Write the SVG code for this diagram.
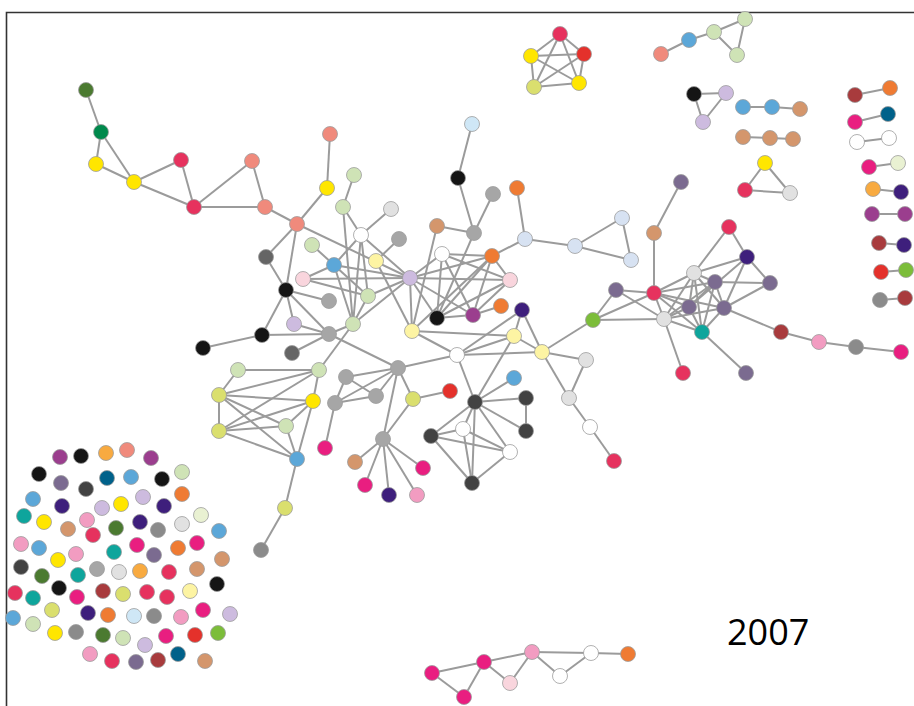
<svg xmlns="http://www.w3.org/2000/svg" width="914" height="706" viewBox="0 0 914 706">
<style>
circle{stroke:#9d9d9d;stroke-width:0.8}
#edges line{stroke:#9b9b9b;stroke-width:2}
.cr{fill:#e6325e}.mg{fill:#e91e80}.sa{fill:#f08a7c}.ye{fill:#ffe600}.yg{fill:#dadf6e}.lg{fill:#cfe3b6}.pg{fill:#e9f1d2}.gr{fill:#7cbd3a}.dg{fill:#4b7a30}.g2{fill:#00894c}.te{fill:#0ea59c}.tb{fill:#00618a}.bl{fill:#5ca7d8}.lb{fill:#cfe7f6}.bg{fill:#d7e2f2}.in{fill:#3e1f7c}.pu{fill:#9b3e8e}.pp{fill:#7b6b90}.la{fill:#cdbbdf}.pk{fill:#f29cc1}.pl{fill:#f9d5dd}.or{fill:#ef7b33}.oy{fill:#f8aa40}.ta{fill:#d4966c}.dr{fill:#a83b3d}.re{fill:#e4312b}.bk{fill:#151515}.dk{fill:#424242}.dm{fill:#656565}.gy{fill:#a6a6a6}.g8{fill:#8b8b8b}.lt{fill:#e1e1e1}.wh{fill:#ffffff}.ly{fill:#fdf4a3}
.yr{font-family:"Open Sans","Liberation Sans",sans-serif;font-size:36px;fill:#000}
</style>
<rect width="914" height="706" fill="#fff"/>
<path d="M6.5 706V12.5H914" fill="none" stroke="#333" stroke-width="1.6"/>
<g id="edges">
<line x1="86" y1="90" x2="101" y2="132"/><line x1="101" y1="132" x2="96" y2="164"/><line x1="101" y1="132" x2="134" y2="182"/><line x1="96" y1="164" x2="134" y2="182"/><line x1="134" y1="182" x2="181" y2="160"/><line x1="134" y1="182" x2="194" y2="207"/><line x1="181" y1="160" x2="194" y2="207"/><line x1="194" y1="207" x2="252" y2="161"/><line x1="194" y1="207" x2="265" y2="207"/><line x1="252" y1="161" x2="265" y2="207"/><line x1="265" y1="207" x2="297" y2="224"/><line x1="297" y1="224" x2="327" y2="188"/><line x1="327" y1="188" x2="330" y2="134"/><line x1="354" y1="175" x2="343" y2="207"/><line x1="297" y1="224" x2="266" y2="257"/><line x1="297" y1="224" x2="286" y2="290"/><line x1="297" y1="224" x2="410" y2="278"/><line x1="343" y1="207" x2="361" y2="235"/><line x1="343" y1="207" x2="353" y2="324"/><line x1="391" y1="209" x2="361" y2="235"/><line x1="361" y1="235" x2="334" y2="265"/><line x1="361" y1="235" x2="368" y2="296"/><line x1="361" y1="235" x2="353" y2="324"/><line x1="361" y1="235" x2="410" y2="278"/><line x1="399" y1="239" x2="376" y2="261"/><line x1="312" y1="245" x2="334" y2="265"/><line x1="334" y1="265" x2="410" y2="278"/><line x1="334" y1="265" x2="303" y2="279"/><line x1="334" y1="265" x2="368" y2="296"/><line x1="334" y1="265" x2="353" y2="324"/><line x1="376" y1="261" x2="412" y2="331"/><line x1="303" y1="279" x2="368" y2="296"/><line x1="303" y1="279" x2="410" y2="278"/><line x1="410" y1="278" x2="368" y2="296"/><line x1="410" y1="278" x2="353" y2="324"/><line x1="410" y1="278" x2="412" y2="331"/><line x1="410" y1="278" x2="437" y2="318"/><line x1="410" y1="278" x2="442" y2="254"/><line x1="410" y1="278" x2="492" y2="256"/><line x1="410" y1="278" x2="510" y2="280"/><line x1="410" y1="278" x2="473" y2="315"/><line x1="286" y1="290" x2="266" y2="257"/><line x1="286" y1="290" x2="329" y2="301"/><line x1="286" y1="290" x2="262" y2="335"/><line x1="286" y1="290" x2="329" y2="334"/><line x1="286" y1="290" x2="294" y2="324"/><line x1="294" y1="324" x2="329" y2="334"/><line x1="262" y1="335" x2="329" y2="334"/><line x1="262" y1="335" x2="203" y2="348"/><line x1="329" y1="334" x2="292" y2="353"/><line x1="329" y1="334" x2="353" y2="324"/><line x1="329" y1="334" x2="398" y2="368"/><line x1="353" y1="324" x2="368" y2="296"/><line x1="353" y1="324" x2="319" y2="370"/>
<line x1="472" y1="124" x2="458" y2="178"/><line x1="458" y1="178" x2="474" y2="233"/><line x1="493" y1="194" x2="474" y2="233"/><line x1="437" y1="226" x2="474" y2="233"/><line x1="474" y1="233" x2="437" y2="318"/><line x1="437" y1="226" x2="412" y2="331"/><line x1="517" y1="188" x2="525" y2="239"/><line x1="525" y1="239" x2="492" y2="256"/><line x1="525" y1="239" x2="575" y2="246"/><line x1="575" y1="246" x2="622" y2="218"/><line x1="575" y1="246" x2="631" y2="260"/><line x1="622" y1="218" x2="631" y2="260"/><line x1="442" y1="254" x2="492" y2="256"/><line x1="442" y1="254" x2="510" y2="280"/><line x1="442" y1="254" x2="437" y2="318"/><line x1="442" y1="254" x2="473" y2="315"/><line x1="492" y1="256" x2="510" y2="280"/><line x1="492" y1="256" x2="437" y2="318"/><line x1="492" y1="256" x2="473" y2="315"/><line x1="492" y1="256" x2="412" y2="331"/><line x1="510" y1="280" x2="437" y2="318"/><line x1="510" y1="280" x2="473" y2="315"/><line x1="473" y1="315" x2="437" y2="318"/><line x1="473" y1="315" x2="501" y2="306"/><line x1="412" y1="331" x2="514" y2="336"/><line x1="412" y1="331" x2="457" y2="355"/><line x1="522" y1="310" x2="457" y2="355"/><line x1="522" y1="310" x2="514" y2="336"/><line x1="522" y1="310" x2="542" y2="352"/><line x1="457" y1="355" x2="514" y2="336"/><line x1="457" y1="355" x2="542" y2="352"/><line x1="514" y1="336" x2="542" y2="352"/><line x1="514" y1="336" x2="475" y2="402"/><line x1="457" y1="355" x2="475" y2="402"/><line x1="457" y1="355" x2="398" y2="368"/><line x1="542" y1="352" x2="593" y2="320"/><line x1="542" y1="352" x2="586" y2="360"/><line x1="542" y1="352" x2="569" y2="398"/><line x1="586" y1="360" x2="569" y2="398"/><line x1="569" y1="398" x2="590" y2="427"/><line x1="590" y1="427" x2="614" y2="461"/>
<line x1="593" y1="320" x2="616" y2="290"/><line x1="593" y1="320" x2="654" y2="293"/><line x1="593" y1="320" x2="664" y2="319"/><line x1="616" y1="290" x2="654" y2="293"/><line x1="616" y1="290" x2="664" y2="319"/><line x1="681" y1="182" x2="654" y2="233"/><line x1="654" y1="233" x2="654" y2="293"/><line x1="654" y1="293" x2="694" y2="273"/><line x1="654" y1="293" x2="715" y2="282"/><line x1="654" y1="293" x2="689" y2="307"/><line x1="654" y1="293" x2="724" y2="308"/><line x1="654" y1="293" x2="664" y2="319"/><line x1="654" y1="293" x2="702" y2="332"/><line x1="729" y1="227" x2="694" y2="273"/><line x1="729" y1="227" x2="747" y2="257"/><line x1="747" y1="257" x2="694" y2="273"/><line x1="747" y1="257" x2="770" y2="283"/><line x1="747" y1="257" x2="689" y2="307"/><line x1="747" y1="257" x2="724" y2="308"/><line x1="694" y1="273" x2="715" y2="282"/><line x1="694" y1="273" x2="689" y2="307"/><line x1="694" y1="273" x2="724" y2="308"/><line x1="694" y1="273" x2="664" y2="319"/><line x1="694" y1="273" x2="702" y2="332"/><line x1="715" y1="282" x2="770" y2="283"/><line x1="715" y1="282" x2="724" y2="308"/><line x1="715" y1="282" x2="664" y2="319"/><line x1="715" y1="282" x2="702" y2="332"/><line x1="715" y1="282" x2="689" y2="307"/><line x1="664" y1="319" x2="702" y2="332"/><line x1="664" y1="319" x2="689" y2="307"/><line x1="664" y1="319" x2="724" y2="308"/><line x1="664" y1="319" x2="683" y2="373"/><line x1="702" y1="332" x2="746" y2="373"/><line x1="724" y1="308" x2="781" y2="332"/><line x1="781" y1="332" x2="819" y2="342"/><line x1="819" y1="342" x2="856" y2="347"/><line x1="856" y1="347" x2="901" y2="352"/><line x1="689" y1="307" x2="702" y2="332"/><line x1="724" y1="308" x2="702" y2="332"/><line x1="770" y1="283" x2="724" y2="308"/>
<line x1="413" y1="399" x2="450" y2="391"/><line x1="475" y1="402" x2="514" y2="378"/><line x1="475" y1="402" x2="526" y2="398"/><line x1="475" y1="402" x2="526" y2="431"/><line x1="526" y1="398" x2="526" y2="431"/><line x1="475" y1="402" x2="463" y2="429"/><line x1="475" y1="402" x2="431" y2="436"/><line x1="475" y1="402" x2="510" y2="452"/><line x1="475" y1="402" x2="472" y2="483"/><line x1="431" y1="436" x2="463" y2="429"/><line x1="431" y1="436" x2="510" y2="452"/><line x1="431" y1="436" x2="472" y2="483"/><line x1="463" y1="429" x2="510" y2="452"/><line x1="463" y1="429" x2="472" y2="483"/><line x1="510" y1="452" x2="472" y2="483"/><line x1="398" y1="368" x2="413" y2="399"/><line x1="398" y1="368" x2="346" y2="377"/><line x1="398" y1="368" x2="376" y2="396"/><line x1="398" y1="368" x2="335" y2="403"/><line x1="398" y1="368" x2="383" y2="439"/><line x1="346" y1="377" x2="376" y2="396"/><line x1="346" y1="377" x2="335" y2="403"/><line x1="376" y1="396" x2="335" y2="403"/><line x1="335" y1="403" x2="325" y2="448"/><line x1="383" y1="439" x2="355" y2="462"/><line x1="383" y1="439" x2="365" y2="485"/><line x1="383" y1="439" x2="389" y2="495"/><line x1="383" y1="439" x2="417" y2="495"/><line x1="383" y1="439" x2="423" y2="468"/><line x1="383" y1="439" x2="413" y2="399"/><line x1="238" y1="370" x2="319" y2="370"/><line x1="238" y1="370" x2="219" y2="395"/><line x1="319" y1="370" x2="219" y2="395"/><line x1="319" y1="370" x2="219" y2="431"/><line x1="319" y1="370" x2="313" y2="401"/><line x1="219" y1="395" x2="313" y2="401"/><line x1="219" y1="395" x2="219" y2="431"/><line x1="219" y1="395" x2="286" y2="426"/><line x1="219" y1="395" x2="297" y2="459"/><line x1="219" y1="431" x2="313" y2="401"/><line x1="219" y1="431" x2="286" y2="426"/><line x1="219" y1="431" x2="297" y2="459"/><line x1="286" y1="426" x2="297" y2="459"/><line x1="286" y1="426" x2="313" y2="401"/><line x1="313" y1="401" x2="297" y2="459"/><line x1="297" y1="459" x2="285" y2="508"/><line x1="285" y1="508" x2="261" y2="550"/>
<line x1="560" y1="34" x2="531" y2="56"/><line x1="560" y1="34" x2="584" y2="54"/><line x1="560" y1="34" x2="534" y2="87"/><line x1="560" y1="34" x2="579" y2="83"/><line x1="531" y1="56" x2="584" y2="54"/><line x1="531" y1="56" x2="534" y2="87"/><line x1="531" y1="56" x2="579" y2="83"/><line x1="584" y1="54" x2="534" y2="87"/><line x1="584" y1="54" x2="579" y2="83"/><line x1="534" y1="87" x2="579" y2="83"/>
<line x1="661" y1="54" x2="689" y2="40"/><line x1="689" y1="40" x2="714" y2="32"/><line x1="714" y1="32" x2="745" y2="19"/><line x1="714" y1="32" x2="737" y2="55"/><line x1="745" y1="19" x2="737" y2="55"/>
<line x1="694" y1="94" x2="726" y2="93"/><line x1="694" y1="94" x2="703" y2="122"/><line x1="726" y1="93" x2="703" y2="122"/>
<line x1="743" y1="107" x2="772" y2="107"/><line x1="772" y1="107" x2="800" y2="109"/><line x1="743" y1="137" x2="770" y2="138"/><line x1="770" y1="138" x2="793" y2="139"/>
<line x1="765" y1="163" x2="745" y2="190"/><line x1="765" y1="163" x2="790" y2="193"/><line x1="745" y1="190" x2="790" y2="193"/>
<line x1="855" y1="95" x2="890" y2="88"/><line x1="855" y1="122" x2="888" y2="114"/><line x1="857" y1="142" x2="889" y2="138"/><line x1="869" y1="167" x2="898" y2="163"/><line x1="873" y1="189" x2="901" y2="192"/><line x1="872" y1="214" x2="905" y2="214"/><line x1="879" y1="243" x2="904" y2="245"/><line x1="881" y1="272" x2="906" y2="270"/><line x1="880" y1="300" x2="905" y2="298"/>
<line x1="432" y1="673" x2="464" y2="697"/><line x1="432" y1="673" x2="484" y2="662"/><line x1="464" y1="697" x2="484" y2="662"/><line x1="484" y1="662" x2="510" y2="683"/><line x1="484" y1="662" x2="532" y2="652"/><line x1="510" y1="683" x2="532" y2="652"/><line x1="532" y1="652" x2="560" y2="676"/><line x1="532" y1="652" x2="591" y2="653"/><line x1="560" y1="676" x2="591" y2="653"/><line x1="591" y1="653" x2="628" y2="654"/>
</g>
<g id="n1"><circle class="dg" cx="86" cy="90" r="7.5"/></g>
<g id="n2"><circle class="g2" cx="101" cy="132" r="7.5"/></g>
<g id="n3"><circle class="ye" cx="96" cy="164" r="7.5"/></g>
<g id="n4"><circle class="ye" cx="134" cy="182" r="7.5"/></g>
<g id="n5"><circle class="cr" cx="181" cy="160" r="7.5"/></g>
<g id="n6"><circle class="cr" cx="194" cy="207" r="7.5"/></g>
<g id="n7"><circle class="sa" cx="252" cy="161" r="7.5"/></g>
<g id="n8"><circle class="sa" cx="265" cy="207" r="7.5"/></g>
<g id="n9"><circle class="sa" cx="297" cy="224" r="7.5"/></g>
<g id="n10"><circle class="sa" cx="330" cy="134" r="7.5"/></g>
<g id="n11"><circle class="ye" cx="327" cy="188" r="7.5"/></g>
<g id="n12"><circle class="lg" cx="354" cy="175" r="7.5"/></g>
<g id="n13"><circle class="lg" cx="343" cy="207" r="7.5"/></g>
<g id="b1"><circle class="lt" cx="391" cy="209" r="7.5"/></g>
<g id="b2"><circle class="wh" cx="361" cy="235" r="7.5"/></g>
<g id="b3"><circle class="gy" cx="399" cy="239" r="7.5"/></g>
<g id="b4"><circle class="lg" cx="312" cy="245" r="7.5"/></g>
<g id="b5"><circle class="bl" cx="334" cy="265" r="7.5"/></g>
<g id="b6"><circle class="ly" cx="376" cy="261" r="7.5"/></g>
<g id="b7"><circle class="la" cx="410" cy="278" r="7.5"/></g>
<g id="b8"><circle class="pl" cx="303" cy="279" r="7.5"/></g>
<g id="b9"><circle class="dm" cx="266" cy="257" r="7.5"/></g>
<g id="b10"><circle class="bk" cx="286" cy="290" r="7.5"/></g>
<g id="b11"><circle class="gy" cx="329" cy="301" r="7.5"/></g>
<g id="b12"><circle class="lg" cx="368" cy="296" r="7.5"/></g>
<g id="b13"><circle class="la" cx="294" cy="324" r="7.5"/></g>
<g id="b14"><circle class="bk" cx="262" cy="335" r="7.5"/></g>
<g id="b15"><circle class="gy" cx="329" cy="334" r="7.5"/></g>
<g id="b16"><circle class="lg" cx="353" cy="324" r="7.5"/></g>
<g id="b17"><circle class="bk" cx="203" cy="348" r="7.5"/></g>
<g id="b18"><circle class="dm" cx="292" cy="353" r="7.5"/></g>
<g id="b19"><circle class="bk" cx="437" cy="318" r="7.5"/></g>
<g id="b20"><circle class="ly" cx="412" cy="331" r="7.5"/></g>
<g id="c1"><circle class="lb" cx="472" cy="124" r="7.5"/></g>
<g id="c2"><circle class="bk" cx="458" cy="178" r="7.5"/></g>
<g id="c3"><circle class="gy" cx="493" cy="194" r="7.5"/></g>
<g id="c4"><circle class="or" cx="517" cy="188" r="7.5"/></g>
<g id="c5"><circle class="ta" cx="437" cy="226" r="7.5"/></g>
<g id="c6"><circle class="gy" cx="474" cy="233" r="7.5"/></g>
<g id="c7"><circle class="wh" cx="442" cy="254" r="7.5"/></g>
<g id="c8"><circle class="or" cx="492" cy="256" r="7.5"/></g>
<g id="c9"><circle class="bg" cx="525" cy="239" r="7.5"/></g>
<g id="c10"><circle class="bg" cx="575" cy="246" r="7.5"/></g>
<g id="c11"><circle class="bg" cx="622" cy="218" r="7.5"/></g>
<g id="c12"><circle class="bg" cx="631" cy="260" r="7.5"/></g>
<g id="c13"><circle class="pl" cx="510" cy="280" r="7.5"/></g>
<g id="c14"><circle class="or" cx="501" cy="306" r="7.5"/></g>
<g id="c15"><circle class="pu" cx="473" cy="315" r="7.5"/></g>
<g id="c16"><circle class="in" cx="522" cy="310" r="7.5"/></g>
<g id="c17"><circle class="ly" cx="514" cy="336" r="7.5"/></g>
<g id="c18"><circle class="wh" cx="457" cy="355" r="7.5"/></g>
<g id="c19"><circle class="ly" cx="542" cy="352" r="7.5"/></g>
<g id="c20"><circle class="lt" cx="586" cy="360" r="7.5"/></g>
<g id="c21"><circle class="gr" cx="593" cy="320" r="7.5"/></g>
<g id="c22"><circle class="pp" cx="616" cy="290" r="7.5"/></g>
<g id="c23"><circle class="cr" cx="654" cy="293" r="7.5"/></g>
<g id="c24"><circle class="ta" cx="654" cy="233" r="7.5"/></g>
<g id="d1"><circle class="pp" cx="681" cy="182" r="7.5"/></g>
<g id="d2"><circle class="cr" cx="729" cy="227" r="7.5"/></g>
<g id="d3"><circle class="in" cx="747" cy="257" r="7.5"/></g>
<g id="d4"><circle class="lt" cx="694" cy="273" r="7.5"/></g>
<g id="d5"><circle class="pp" cx="715" cy="282" r="7.5"/></g>
<g id="d6"><circle class="pp" cx="770" cy="283" r="7.5"/></g>
<g id="d7"><circle class="pp" cx="689" cy="307" r="7.5"/></g>
<g id="d8"><circle class="pp" cx="724" cy="308" r="7.5"/></g>
<g id="d9"><circle class="lt" cx="664" cy="319" r="7.5"/></g>
<g id="d10"><circle class="te" cx="702" cy="332" r="7.5"/></g>
<g id="d11"><circle class="dr" cx="781" cy="332" r="7.5"/></g>
<g id="d12"><circle class="pk" cx="819" cy="342" r="7.5"/></g>
<g id="d13"><circle class="g8" cx="856" cy="347" r="7.5"/></g>
<g id="d14"><circle class="mg" cx="901" cy="352" r="7.5"/></g>
<g id="d15"><circle class="cr" cx="683" cy="373" r="7.5"/></g>
<g id="d16"><circle class="pp" cx="746" cy="373" r="7.5"/></g>
<g id="e1"><circle class="gy" cx="398" cy="368" r="7.5"/></g>
<g id="e2"><circle class="yg" cx="413" cy="399" r="7.5"/></g>
<g id="e3"><circle class="re" cx="450" cy="391" r="7.5"/></g>
<g id="e4"><circle class="bl" cx="514" cy="378" r="7.5"/></g>
<g id="e5"><circle class="dk" cx="475" cy="402" r="7.5"/></g>
<g id="e6"><circle class="dk" cx="526" cy="398" r="7.5"/></g>
<g id="e7"><circle class="dk" cx="526" cy="431" r="7.5"/></g>
<g id="e8"><circle class="wh" cx="463" cy="429" r="7.5"/></g>
<g id="e9"><circle class="dk" cx="431" cy="436" r="7.5"/></g>
<g id="e10"><circle class="wh" cx="510" cy="452" r="7.5"/></g>
<g id="e11"><circle class="dk" cx="472" cy="483" r="7.5"/></g>
<g id="e12"><circle class="lt" cx="569" cy="398" r="7.5"/></g>
<g id="e13"><circle class="wh" cx="590" cy="427" r="7.5"/></g>
<g id="e14"><circle class="cr" cx="614" cy="461" r="7.5"/></g>
<g id="e15"><circle class="mg" cx="423" cy="468" r="7.5"/></g>
<g id="e16"><circle class="pk" cx="417" cy="495" r="7.5"/></g>
<g id="f1"><circle class="lg" cx="238" cy="370" r="7.5"/></g>
<g id="f2"><circle class="lg" cx="319" cy="370" r="7.5"/></g>
<g id="f3"><circle class="gy" cx="346" cy="377" r="7.5"/></g>
<g id="f4"><circle class="gy" cx="376" cy="396" r="7.5"/></g>
<g id="f5"><circle class="gy" cx="335" cy="403" r="7.5"/></g>
<g id="f6"><circle class="yg" cx="219" cy="395" r="7.5"/></g>
<g id="f7"><circle class="ye" cx="313" cy="401" r="7.5"/></g>
<g id="f8"><circle class="lg" cx="286" cy="426" r="7.5"/></g>
<g id="f9"><circle class="yg" cx="219" cy="431" r="7.5"/></g>
<g id="f10"><circle class="bl" cx="297" cy="459" r="7.5"/></g>
<g id="f11"><circle class="gy" cx="383" cy="439" r="7.5"/></g>
<g id="f12"><circle class="mg" cx="325" cy="448" r="7.5"/></g>
<g id="f13"><circle class="ta" cx="355" cy="462" r="7.5"/></g>
<g id="f14"><circle class="mg" cx="365" cy="485" r="7.5"/></g>
<g id="f15"><circle class="in" cx="389" cy="495" r="7.5"/></g>
<g id="f16"><circle class="yg" cx="285" cy="508" r="7.5"/></g>
<g id="f17"><circle class="g8" cx="261" cy="550" r="7.5"/></g>
<g id="k1"><circle class="cr" cx="560" cy="34" r="7.5"/></g>
<g id="k2"><circle class="ye" cx="531" cy="56" r="7.5"/></g>
<g id="k3"><circle class="re" cx="584" cy="54" r="7.5"/></g>
<g id="k4"><circle class="yg" cx="534" cy="87" r="7.5"/></g>
<g id="k5"><circle class="ye" cx="579" cy="83" r="7.5"/></g>
<g id="t1"><circle class="sa" cx="661" cy="54" r="7.5"/></g>
<g id="t2"><circle class="bl" cx="689" cy="40" r="7.5"/></g>
<g id="t3"><circle class="lg" cx="714" cy="32" r="7.5"/></g>
<g id="t4"><circle class="lg" cx="745" cy="19" r="7.5"/></g>
<g id="t5"><circle class="lg" cx="737" cy="55" r="7.5"/></g>
<g id="u1"><circle class="bk" cx="694" cy="94" r="7.5"/></g>
<g id="u2"><circle class="la" cx="726" cy="93" r="7.5"/></g>
<g id="u3"><circle class="la" cx="703" cy="122" r="7.5"/></g>
<g id="v1"><circle class="bl" cx="743" cy="107" r="7.5"/></g>
<g id="v2"><circle class="bl" cx="772" cy="107" r="7.5"/></g>
<g id="v3"><circle class="ta" cx="800" cy="109" r="7.5"/></g>
<g id="w1"><circle class="ta" cx="743" cy="137" r="7.5"/></g>
<g id="w2"><circle class="ta" cx="770" cy="138" r="7.5"/></g>
<g id="w3"><circle class="ta" cx="793" cy="139" r="7.5"/></g>
<g id="x1"><circle class="ye" cx="765" cy="163" r="7.5"/></g>
<g id="x2"><circle class="cr" cx="745" cy="190" r="7.5"/></g>
<g id="x3"><circle class="lt" cx="790" cy="193" r="7.5"/></g>
<g id="p1"><circle class="dr" cx="855" cy="95" r="7.5"/></g>
<g id="p2"><circle class="or" cx="890" cy="88" r="7.5"/></g>
<g id="p3"><circle class="mg" cx="855" cy="122" r="7.5"/></g>
<g id="p4"><circle class="tb" cx="888" cy="114" r="7.5"/></g>
<g id="p5"><circle class="wh" cx="857" cy="142" r="7.5"/></g>
<g id="p6"><circle class="wh" cx="889" cy="138" r="7.5"/></g>
<g id="p7"><circle class="mg" cx="869" cy="167" r="7.5"/></g>
<g id="p8"><circle class="pg" cx="898" cy="163" r="7.5"/></g>
<g id="p9"><circle class="oy" cx="873" cy="189" r="7.5"/></g>
<g id="p10"><circle class="in" cx="901" cy="192" r="7.5"/></g>
<g id="p11"><circle class="pu" cx="872" cy="214" r="7.5"/></g>
<g id="p12"><circle class="pu" cx="905" cy="214" r="7.5"/></g>
<g id="p13"><circle class="dr" cx="879" cy="243" r="7.5"/></g>
<g id="p14"><circle class="in" cx="904" cy="245" r="7.5"/></g>
<g id="p15"><circle class="re" cx="881" cy="272" r="7.5"/></g>
<g id="p16"><circle class="gr" cx="906" cy="270" r="7.5"/></g>
<g id="p17"><circle class="g8" cx="880" cy="300" r="7.5"/></g>
<g id="p18"><circle class="dr" cx="905" cy="298" r="7.5"/></g>
<g id="q1"><circle class="mg" cx="432" cy="673" r="7.5"/></g>
<g id="q2"><circle class="mg" cx="464" cy="697" r="7.5"/></g>
<g id="q3"><circle class="mg" cx="484" cy="662" r="7.5"/></g>
<g id="q4"><circle class="pl" cx="510" cy="683" r="7.5"/></g>
<g id="q5"><circle class="pk" cx="532" cy="652" r="7.5"/></g>
<g id="q6"><circle class="wh" cx="560" cy="676" r="7.5"/></g>
<g id="q7"><circle class="wh" cx="591" cy="653" r="7.5"/></g>
<g id="q8"><circle class="or" cx="628" cy="654" r="7.5"/></g>
<g id="i1"><circle class="pu" cx="60" cy="457" r="7.5"/></g>
<g id="i2"><circle class="bk" cx="81" cy="456" r="7.5"/></g>
<g id="i3"><circle class="oy" cx="106" cy="453" r="7.5"/></g>
<g id="i4"><circle class="sa" cx="127" cy="450" r="7.5"/></g>
<g id="i5"><circle class="pu" cx="151" cy="458" r="7.5"/></g>
<g id="i6"><circle class="bk" cx="39" cy="474" r="7.5"/></g>
<g id="i7"><circle class="pp" cx="61" cy="483" r="7.5"/></g>
<g id="i8"><circle class="dk" cx="86" cy="489" r="7.5"/></g>
<g id="i9"><circle class="tb" cx="107" cy="478" r="7.5"/></g>
<g id="i10"><circle class="bl" cx="131" cy="477" r="7.5"/></g>
<g id="i11"><circle class="bk" cx="162" cy="479" r="7.5"/></g>
<g id="i12"><circle class="lg" cx="182" cy="472" r="7.5"/></g>
<g id="i13"><circle class="bl" cx="33" cy="499" r="7.5"/></g>
<g id="i14"><circle class="in" cx="62" cy="506" r="7.5"/></g>
<g id="i15"><circle class="la" cx="102" cy="508" r="7.5"/></g>
<g id="i16"><circle class="ye" cx="121" cy="504" r="7.5"/></g>
<g id="i17"><circle class="la" cx="143" cy="497" r="7.5"/></g>
<g id="i18"><circle class="in" cx="164" cy="506" r="7.5"/></g>
<g id="i19"><circle class="or" cx="182" cy="494" r="7.5"/></g>
<g id="i20"><circle class="te" cx="24" cy="516" r="7.5"/></g>
<g id="i21"><circle class="ye" cx="44" cy="522" r="7.5"/></g>
<g id="i22"><circle class="ta" cx="68" cy="529" r="7.5"/></g>
<g id="i23"><circle class="pk" cx="87" cy="520" r="7.5"/></g>
<g id="i24"><circle class="dg" cx="116" cy="528" r="7.5"/></g>
<g id="i25"><circle class="in" cx="140" cy="522" r="7.5"/></g>
<g id="i26"><circle class="g8" cx="158" cy="530" r="7.5"/></g>
<g id="i27"><circle class="lt" cx="182" cy="524" r="7.5"/></g>
<g id="i28"><circle class="pg" cx="201" cy="515" r="7.5"/></g>
<g id="i29"><circle class="bl" cx="219" cy="531" r="7.5"/></g>
<g id="i30"><circle class="pk" cx="21" cy="544" r="7.5"/></g>
<g id="i31"><circle class="bl" cx="39" cy="548" r="7.5"/></g>
<g id="i32"><circle class="cr" cx="93" cy="535" r="7.5"/></g>
<g id="i33"><circle class="te" cx="114" cy="552" r="7.5"/></g>
<g id="i34"><circle class="mg" cx="137" cy="545" r="7.5"/></g>
<g id="i35"><circle class="pp" cx="154" cy="555" r="7.5"/></g>
<g id="i36"><circle class="or" cx="178" cy="548" r="7.5"/></g>
<g id="i37"><circle class="mg" cx="197" cy="543" r="7.5"/></g>
<g id="i38"><circle class="pk" cx="76" cy="554" r="7.5"/></g>
<g id="i39"><circle class="ta" cx="222" cy="559" r="7.5"/></g>
<g id="i40"><circle class="dk" cx="21" cy="567" r="7.5"/></g>
<g id="i41"><circle class="ye" cx="58" cy="560" r="7.5"/></g>
<g id="i42"><circle class="dg" cx="42" cy="576" r="7.5"/></g>
<g id="i43"><circle class="te" cx="78" cy="575" r="7.5"/></g>
<g id="i44"><circle class="gy" cx="97" cy="569" r="7.5"/></g>
<g id="i45"><circle class="lt" cx="119" cy="572" r="7.5"/></g>
<g id="i46"><circle class="oy" cx="140" cy="571" r="7.5"/></g>
<g id="i47"><circle class="cr" cx="169" cy="572" r="7.5"/></g>
<g id="i48"><circle class="ta" cx="197" cy="569" r="7.5"/></g>
<g id="i49"><circle class="bk" cx="217" cy="584" r="7.5"/></g>
<g id="i50"><circle class="cr" cx="15" cy="593" r="7.5"/></g>
<g id="i51"><circle class="te" cx="33" cy="598" r="7.5"/></g>
<g id="i52"><circle class="bk" cx="59" cy="588" r="7.5"/></g>
<g id="i53"><circle class="mg" cx="77" cy="597" r="7.5"/></g>
<g id="i54"><circle class="dr" cx="103" cy="591" r="7.5"/></g>
<g id="i55"><circle class="yg" cx="123" cy="594" r="7.5"/></g>
<g id="i56"><circle class="cr" cx="147" cy="592" r="7.5"/></g>
<g id="i57"><circle class="cr" cx="167" cy="597" r="7.5"/></g>
<g id="i58"><circle class="ly" cx="190" cy="591" r="7.5"/></g>
<g id="i59"><circle class="bl" cx="13" cy="618" r="7.5"/></g>
<g id="i60"><circle class="yg" cx="52" cy="610" r="7.5"/></g>
<g id="i61"><circle class="in" cx="88" cy="613" r="7.5"/></g>
<g id="i62"><circle class="or" cx="108" cy="615" r="7.5"/></g>
<g id="i63"><circle class="lb" cx="134" cy="616" r="7.5"/></g>
<g id="i64"><circle class="g8" cx="154" cy="616" r="7.5"/></g>
<g id="i65"><circle class="pk" cx="181" cy="617" r="7.5"/></g>
<g id="i66"><circle class="mg" cx="203" cy="610" r="7.5"/></g>
<g id="i67"><circle class="la" cx="230" cy="614" r="7.5"/></g>
<g id="i68"><circle class="lg" cx="33" cy="624" r="7.5"/></g>
<g id="i69"><circle class="ye" cx="55" cy="633" r="7.5"/></g>
<g id="i70"><circle class="g8" cx="76" cy="632" r="7.5"/></g>
<g id="i71"><circle class="dg" cx="103" cy="635" r="7.5"/></g>
<g id="i72"><circle class="lg" cx="123" cy="638" r="7.5"/></g>
<g id="i73"><circle class="la" cx="145" cy="645" r="7.5"/></g>
<g id="i74"><circle class="mg" cx="166" cy="636" r="7.5"/></g>
<g id="i75"><circle class="re" cx="195" cy="635" r="7.5"/></g>
<g id="i76"><circle class="gr" cx="218" cy="633" r="7.5"/></g>
<g id="i77"><circle class="pk" cx="90" cy="654" r="7.5"/></g>
<g id="i78"><circle class="cr" cx="112" cy="661" r="7.5"/></g>
<g id="i79"><circle class="pp" cx="136" cy="662" r="7.5"/></g>
<g id="i80"><circle class="dr" cx="158" cy="660" r="7.5"/></g>
<g id="i81"><circle class="tb" cx="178" cy="654" r="7.5"/></g>
<g id="i82"><circle class="ta" cx="205" cy="661" r="7.5"/></g>
<text class="yr" x="727" y="645">2007</text>
</svg>
